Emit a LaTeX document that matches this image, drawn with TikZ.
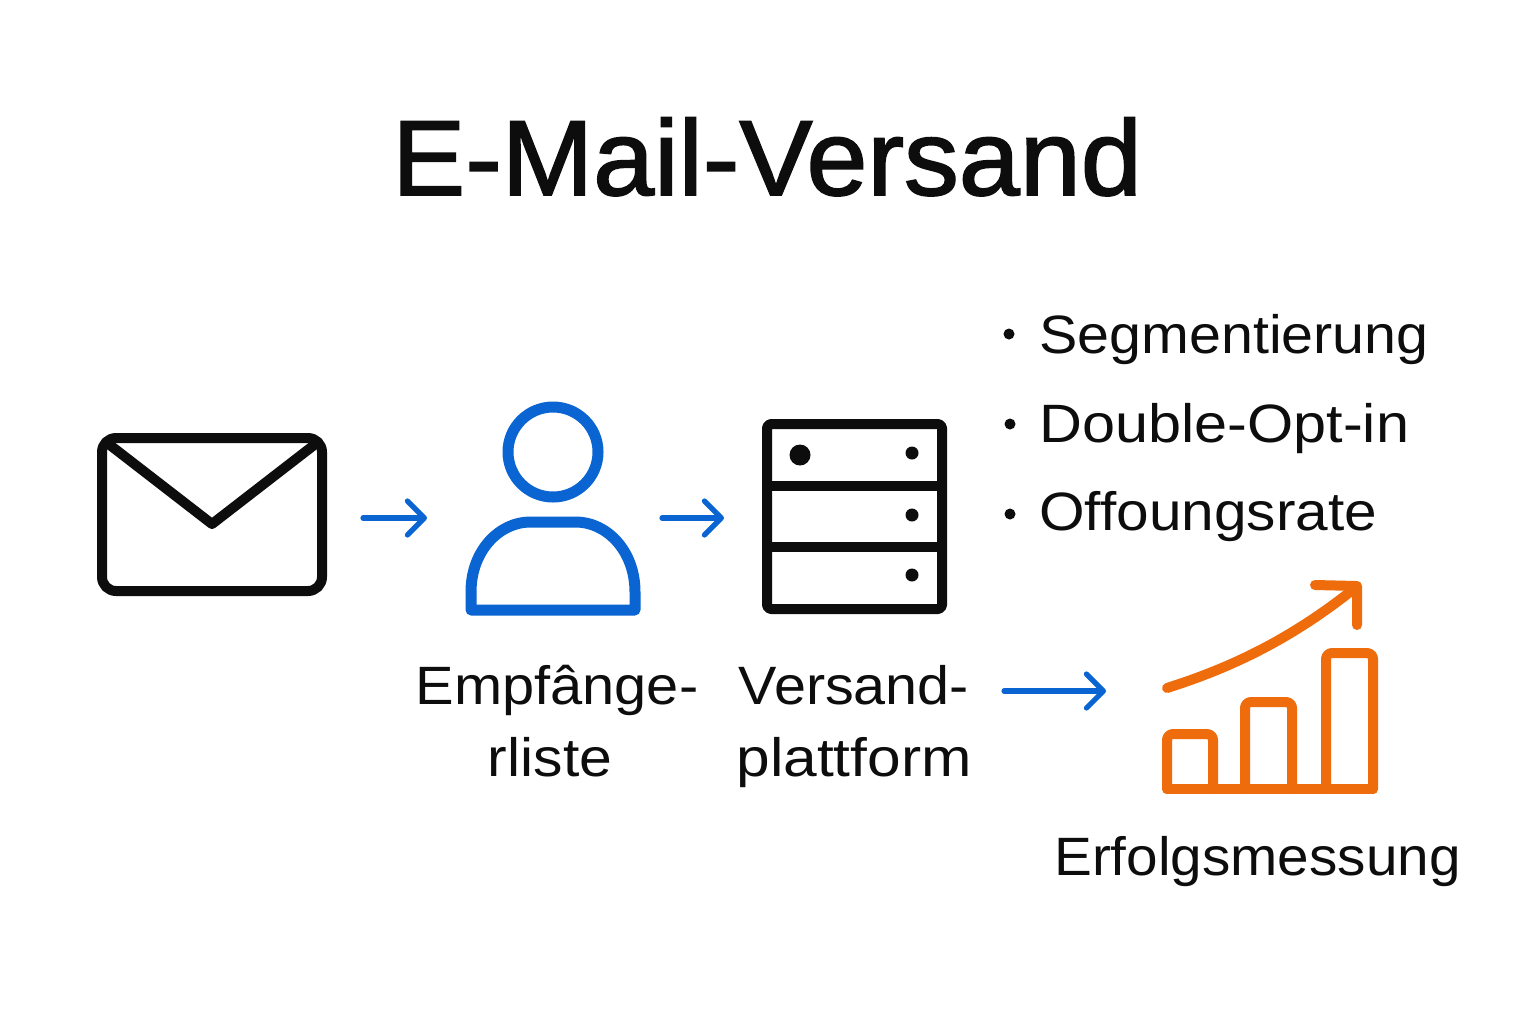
\documentclass[tikz,border=0pt]{standalone}
\usepackage{fontspec}
\usepackage{graphicx}
\setmainfont{Liberation Sans}
\newfontfamily\titlefont[FakeBold=1.6]{Liberation Sans}
\usetikzlibrary{arrows.meta}
\definecolor{ink}{HTML}{0D0D0D}
\definecolor{blueicon}{HTML}{0A64D2}
\definecolor{orangeicon}{HTML}{EF6C0C}
\newcommand{\widetxt}[2]{\scalebox{#1}[1]{#2}}
\tikzset{
  x=0.5pt,y=-0.5pt,
  inkline/.style={draw=ink,line width=5pt,line join=round},
  blueline/.style={draw=blueicon,line width=5.5pt,line join=round},
  orangeline/.style={draw=orangeicon,line width=5pt,line join=round,line cap=round},
  flowarrow/.style={draw=blueicon,line width=2.6pt,line cap=round,-{Straight Barb[length=8.5pt,width=17pt,line width=2.6pt,round]}},
  titletext/.style={text=ink,inner sep=0pt,font=\titlefont\fontsize{53.5pt}{60pt}\selectfont},
  bodytext/.style={text=ink,inner sep=0pt,font=\fontsize{27pt}{36pt}\selectfont},
  labeltext/.style={bodytext,align=center},
  dotbullet/.style={circle,fill=ink,inner sep=0pt,minimum size=5.5pt},
  dotsmall/.style={circle,fill=ink,inner sep=0pt,minimum size=6.5pt},
  dotlarge/.style={circle,fill=ink,inner sep=0pt,minimum size=10.5pt}
}
\begin{document}
\begin{tikzpicture}
\useasboundingbox (0,0) rectangle (1536,1024);
\fill[white] (0,0) rectangle (1536,1024);
\node[titletext,anchor=base] (title) at (767,195) {\widetxt{1.025}{E-Mail-Versand}};
% envelope
\draw[inkline,rounded corners=7pt] (102,438) rectangle (322,591);
\draw[inkline,line cap=round] (106,442) -- (212,524) -- (318,442);
\coordinate (a1s) at (363,518); \coordinate (a1e) at (427,518);
\draw[flowarrow] (a1s) -- (a1e);
% person
\node[circle,blueline,minimum size=45pt,inner sep=0pt,outer sep=0pt] (head) at (553,452) {};
\draw[blueline] (471,610) -- (471,592) .. controls (471,550) and (500,522) .. (530,522) -- (576,522) .. controls (606,522) and (635,550) .. (635,592) -- (635,610) -- cycle;
\coordinate (a2s) at (662,518); \coordinate (a2e) at (724,518);
\draw[flowarrow] (a2s) -- (a2e);
% server
\draw[inkline,rounded corners=2pt] (767,424) rectangle (942,609);
\draw[inkline] (767,486) -- (942,486);
\draw[inkline] (767,547) -- (942,547);
\node[dotlarge] (d0) at (800,455) {};
\node[dotsmall] (d1) at (912,453) {};
\node[dotsmall] (d2) at (912,515) {};
\node[dotsmall] (d3) at (912,575) {};
% bullets
\node[dotbullet] (b1) at (1009,334) {};
\node[dotbullet] (b2) at (1010,424) {};
\node[dotbullet] (b3) at (1010,514) {};
\node[bodytext,anchor=base west] (t1) at (1039,353) {\widetxt{1.063}{Segmentierung}};
\node[bodytext,anchor=base west] (t2) at (1039,442) {\widetxt{1.10}{Double-Opt-in}};
\node[bodytext,anchor=base west] (t3) at (1039,530) {\widetxt{1.085}{Offoungsrate}};
% labels
\node[labeltext,anchor=center] (l1) at (557,721) {\widetxt{1.07}{Empfânge-}\\\widetxt{1.09}{rliste}\hspace*{7pt}};
\node[labeltext,anchor=center] (l2) at (854,727) {\widetxt{1.065}{Versand-}\\\widetxt{1.12}{plattform}};
\node[bodytext,anchor=base] (l3) at (1257.5,875) {\widetxt{1.05}{Erfolgsmessung}};
\coordinate (a3s) at (1004,691); \coordinate (a3e) at (1106,691);
\draw[flowarrow] (a3s) -- (a3e);
% chart
\draw[orangeline] (1167,789) -- (1373,789);
\draw[orangeline,rounded corners=3pt] (1167,789) -- (1167,734) -- (1213,734) -- (1213,789);
\draw[orangeline,rounded corners=3pt] (1245,789) -- (1245,702) -- (1292,702) -- (1292,789);
\draw[orangeline,rounded corners=3pt] (1326,789) -- (1326,653) -- (1373,653) -- (1373,789);
\draw[orangeline] (1167,688) .. controls (1230,668) and (1290,640) .. (1355,588);
\draw[orangeline] (1315,585) -- (1357,586) -- (1357,625);
\end{tikzpicture}
\end{document}
